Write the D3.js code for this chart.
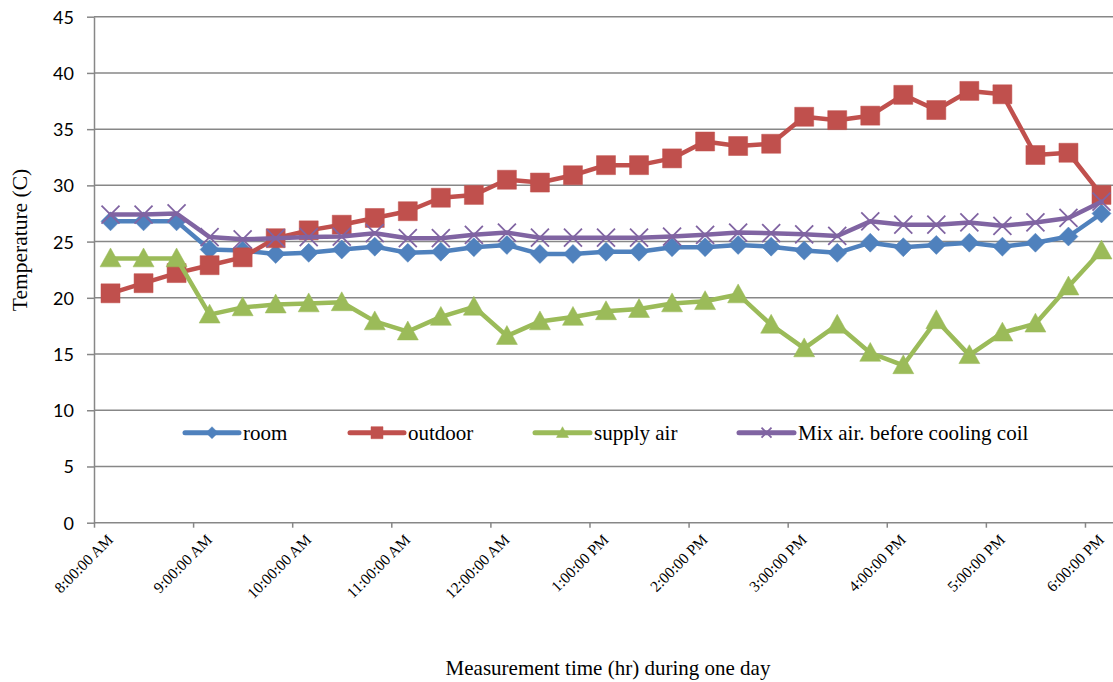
<!DOCTYPE html>
<html>
<head>
<meta charset="utf-8">
<script src="https://cdn.jsdelivr.net/npm/d3@7"></script>
<style>
  html, body { margin: 0; padding: 0; background: #ffffff; }
  svg { display: block; }
</style>
</head>
<body>
<svg id="chart" width="1113" height="682"></svg>
<script>
// Measurement times (every 20 minutes)
const times = ["8:10", "8:30", "8:50", "9:10", "9:30", "9:50", "10:10", "10:30", "10:50",
  "11:10", "11:30", "11:50", "12:10", "12:30", "12:50", "13:10", "13:30", "13:50",
  "14:10", "14:30", "14:50", "15:10", "15:30", "15:50", "16:10", "16:30", "16:50",
  "17:10", "17:30", "17:50", "18:10"];

// Temperatures (°C)
const room = [26.8, 26.8, 26.8, 24.3, 24.2, 23.9, 24.0, 24.3, 24.55,
  24.0, 24.1, 24.5, 24.7, 23.9, 23.9, 24.1, 24.1, 24.5, 24.5, 24.7,
  24.55, 24.2, 24.0, 24.9, 24.5, 24.7, 24.9, 24.55, 24.9, 25.45, 27.5];
const outdoor = [20.4, 21.3, 22.2, 22.9, 23.6, 25.3, 26.0, 26.5, 27.1,
  27.7, 28.9, 29.15, 30.5, 30.25, 30.9, 31.8, 31.8, 32.4, 33.9, 33.5,
  33.7, 36.1, 35.8, 36.2, 38.05, 36.7, 38.4, 38.1, 32.7, 32.9, 29.15];
const supplyAir = [23.5, 23.5, 23.5, 18.5, 19.15, 19.4, 19.5, 19.6, 17.9,
  17.0, 18.3, 19.2, 16.6, 17.9, 18.3, 18.8, 19.0, 19.5, 19.7, 20.3,
  17.6, 15.5, 17.6, 15.1, 14.0, 18.0, 14.9, 16.9, 17.7, 21.0, 24.2];
const mixAir = [27.4, 27.4, 27.5, 25.4, 25.2, 25.3, 25.4, 25.45, 25.75,
  25.3, 25.3, 25.6, 25.8, 25.35, 25.35, 25.35, 25.35, 25.45, 25.6, 25.8,
  25.75, 25.65, 25.5, 26.8, 26.5, 26.5, 26.7, 26.4, 26.7, 27.1, 28.55];

const seriesNames = ["room", "outdoor", "supply air", "Mix air. before cooling coil"];

// Axis ticks
const tickTimes = ["8:00", "9:00", "10:00", "11:00", "12:00", "13:00", "14:00",
  "15:00", "16:00", "17:00", "18:00"];
const tickLabels = ["8:00:00 AM", "9:00:00 AM", "10:00:00 AM", "11:00:00 AM", "12:00:00 AM",
  "1:00:00 PM", "2:00:00 PM", "3:00:00 PM", "4:00:00 PM", "5:00:00 PM", "6:00:00 PM"];
const yTicks = [0, 5, 10, 15, 20, 25, 30, 35, 40, 45];
const xDomain = ["8:00", "18:20"];
const yDomain = [0, 45];

const parseTime = d3.timeParse("%H:%M");

const W = 1113, H = 682;
const plot = { left: 94, top: 16.7, bottom: 522.7, right: 1118 };

const svg = d3.select("#chart");

const x = d3.scaleTime()
  .domain(xDomain.map(parseTime))
  .range([plot.left, plot.right]);
const y = d3.scaleLinear()
  .domain(yDomain)
  .range([plot.bottom, plot.top]);

const gridColor = "#878787";
const serif = "'Liberation Serif', 'Times New Roman', serif";

// Horizontal gridlines
svg.append("g")
  .selectAll("line")
  .data(yTicks.filter(v => v > 0))
  .join("line")
  .attr("x1", plot.left).attr("x2", W)
  .attr("y1", d => y(d)).attr("y2", d => y(d))
  .attr("stroke", gridColor)
  .attr("stroke-width", 1.5);

// Y axis
const yAxis = svg.append("g")
  .attr("transform", `translate(${plot.left},0)`)
  .call(d3.axisLeft(y).tickValues(yTicks).tickSize(7).tickSizeOuter(0).tickPadding(13));
yAxis.select(".domain").attr("stroke", gridColor).attr("stroke-width", 1.5);
yAxis.selectAll(".tick line").attr("stroke", gridColor).attr("stroke-width", 1.5);
yAxis.selectAll(".tick text")
  .attr("fill", "#000")
  .attr("font-family", "Lato, 'Open Sans', sans-serif")
  .attr("font-size", 18)
  .attr("dy", "0.36em");

// X axis
const tickDates = tickTimes.map(parseTime);
const xAxis = svg.append("g")
  .attr("transform", `translate(0,${plot.bottom})`)
  .call(d3.axisBottom(x).tickValues(tickDates).tickSize(5).tickSizeOuter(0)
    .tickFormat((d, i) => tickLabels[i]));
xAxis.select(".domain").attr("stroke", gridColor).attr("stroke-width", 1.5)
  .attr("d", `M${plot.left},0H${W}`);
xAxis.selectAll(".tick line").attr("stroke", gridColor).attr("stroke-width", 1.5);
xAxis.selectAll(".tick text")
  .attr("fill", "#000")
  .attr("font-family", serif)
  .attr("font-size", 15.5)
  .attr("text-anchor", "end")
  .attr("x", 0).attr("y", 0).attr("dy", null)
  .attr("transform", "translate(19.5,18) rotate(-45)");

// Marker shapes
const diamond = { draw(ctx, size) { const r = Math.sqrt(size) / 2;
  ctx.moveTo(0, -r); ctx.lineTo(r, 0); ctx.lineTo(0, r); ctx.lineTo(-r, 0); ctx.closePath(); } };
const square = { draw(ctx, size) { const r = Math.sqrt(size) / 2;
  ctx.rect(-r, -r, 2 * r, 2 * r); } };
const triangle = { draw(ctx, size) { const r = Math.sqrt(size) / 2;
  ctx.moveTo(0, -r); ctx.lineTo(r, r * 0.8); ctx.lineTo(-r, r * 0.8); ctx.closePath(); } };
const cross = { draw(ctx, size) { const r = Math.sqrt(size) / 2;
  ctx.moveTo(-r, -r); ctx.lineTo(r, r); ctx.moveTo(r, -r); ctx.lineTo(-r, r); } };

const series = [
  { name: seriesNames[0], values: room, color: "#4F81BD", shape: diamond, size: 19, filled: true },
  { name: seriesNames[1], values: outdoor, color: "#C0504D", shape: square, size: 19, filled: true },
  { name: seriesNames[2], values: supplyAir, color: "#9BBB59", shape: triangle, size: 21, filled: true },
  { name: seriesNames[3], values: mixAir, color: "#8064A2", shape: cross, size: 18, filled: false }
];

const line = d3.line()
  .x(d => x(d.t))
  .y(d => y(d.v));

const parsedTimes = times.map(parseTime);

series.forEach(s => {
  const pts = s.values.map((v, i) => ({ t: parsedTimes[i], v }));
  const g = svg.append("g");
  g.append("path")
    .datum(pts)
    .attr("d", line)
    .attr("fill", "none")
    .attr("stroke", s.color)
    .attr("stroke-width", 4.5)
    .attr("stroke-linejoin", "round")
    .attr("stroke-linecap", "round");
  const sym = d3.symbol().type(s.shape).size(s.size * s.size);
  g.selectAll("path.marker")
    .data(pts)
    .join("path")
    .attr("class", "marker")
    .attr("transform", d => `translate(${x(d.t)},${y(d.v)})`)
    .attr("d", sym)
    .attr("fill", s.filled ? s.color : "none")
    .attr("stroke", s.color)
    .attr("stroke-width", s.filled ? 0.5 : 1.8);
});

// Legend
const legendY = 432.7;
const legendItems = [
  { x0: 185, x1: 239, tx: 243 },
  { x0: 350, x1: 404, tx: 408 },
  { x0: 535, x1: 590, tx: 594 },
  { x0: 739, x1: 794, tx: 798 }
];
const legend = svg.append("g");
series.forEach((s, i) => {
  const L = legendItems[i];
  const g = legend.append("g");
  g.append("line")
    .attr("x1", L.x0).attr("x2", L.x1)
    .attr("y1", legendY).attr("y2", legendY)
    .attr("stroke", s.color).attr("stroke-width", 5)
    .attr("stroke-linecap", "round");
  g.append("path")
    .attr("transform", `translate(${(L.x0 + L.x1) / 2},${legendY})`)
    .attr("d", d3.symbol().type(s.shape).size(s.filled ? 144 : 100))
    .attr("fill", s.filled ? s.color : "none")
    .attr("stroke", s.color)
    .attr("stroke-width", s.filled ? 0.5 : 1.8);
  g.append("text")
    .attr("x", L.tx).attr("y", legendY)
    .attr("dy", "0.33em")
    .attr("font-family", serif)
    .attr("font-size", 21)
    .attr("fill", "#000")
    .text(s.name);
});

// Axis titles
svg.append("text")
  .attr("x", 608).attr("y", 675)
  .attr("text-anchor", "middle")
  .attr("font-family", serif)
  .attr("font-size", 21)
  .attr("fill", "#000")
  .text("Measurement time (hr) during one day");

svg.append("text")
  .attr("transform", "translate(27,240) rotate(-90)")
  .attr("text-anchor", "middle")
  .attr("font-family", serif)
  .attr("font-size", 21.5)
  .attr("fill", "#000")
  .text("Temperature (C)");
</script>
</body>
</html>
